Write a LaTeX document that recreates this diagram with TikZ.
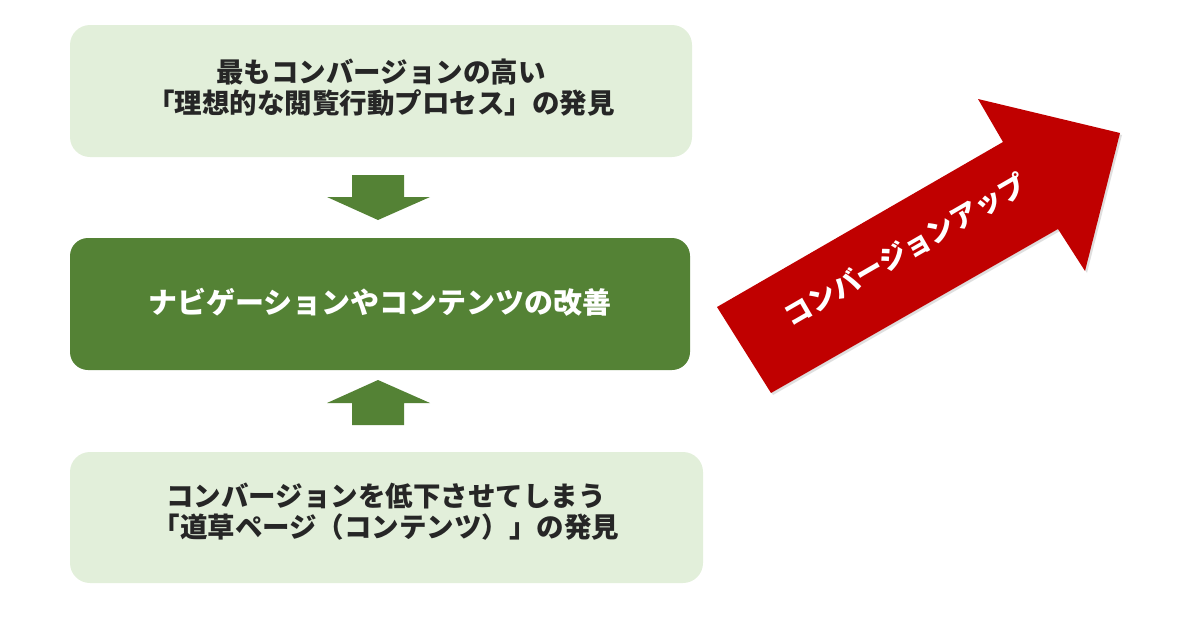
\documentclass[tikz,border=0pt]{standalone}
\usepackage{fontspec}
\newfontfamily\jp{Noto Sans CJK JP}
\usetikzlibrary{shadows}
\definecolor{lightgreen}{HTML}{E2EFDA}
\definecolor{darkgreen}{HTML}{548235}
\definecolor{arrowred}{HTML}{C00000}
\definecolor{txtgray}{HTML}{262626}
\begin{document}
\begin{tikzpicture}[x=1pt,y=-1pt,
  lightbox/.style={fill=lightgreen, draw=none, rounded corners=20pt},
  darkbox/.style={fill=darkgreen, draw=none, rounded corners=18pt},
  boxtext/.style={font=\jp\bfseries\fontsize{27.5}{31}\selectfont, text=txtgray, align=center},
  midtext/.style={font=\jp\bfseries\fontsize{29}{33}\selectfont, text=white, align=center},
  blockarrow/.style={fill=darkgreen, draw=none},
  bigarrow/.style={fill=arrowred, draw=none, drop shadow={shadow xshift=2pt, shadow yshift=-2pt, opacity=0.25}},
  arrowtext/.style={font=\jp\bfseries\fontsize{27.5}{30}\selectfont, text=white}]
\useasboundingbox (0,0) rectangle (1183,616);
% boxes
\path[lightbox] (70,25) rectangle (692,157);
\node[boxtext] (top) at (381,88) {最もコンバージョンの高い\\「理想的な閲覧行動プロセス」の発見};
\path[darkbox] (70,238) rectangle (690,370);
\node[midtext] (mid) at (380,302) {ナビゲーションやコンテンツの改善};
\path[lightbox] (70,452) rectangle (703,583);
\node[boxtext] (bot) at (386,512) {コンバージョンを低下させてしまう\\「道草ページ（コンテンツ）」の発見};
% down arrow
\path[blockarrow] (352,175) -- (404,175) -- (404,197) -- (430,197) -- (378,220) -- (327,197) -- (352,197) -- cycle;
% up arrow
\path[blockarrow] (378,380) -- (430,403) -- (404,403) -- (404,425) -- (352,425) -- (352,403) -- (327,403) -- cycle;
% red arrow
\path[bigarrow] (717,307) -- (1003,142) -- (978,99) -- (1120,133) -- (1085,271) -- (1058,229) -- (771,393) -- cycle;
\node[arrowtext, rotate=30] (up) at (905,250) {コンバージョンアップ};
\end{tikzpicture}
\end{document}
